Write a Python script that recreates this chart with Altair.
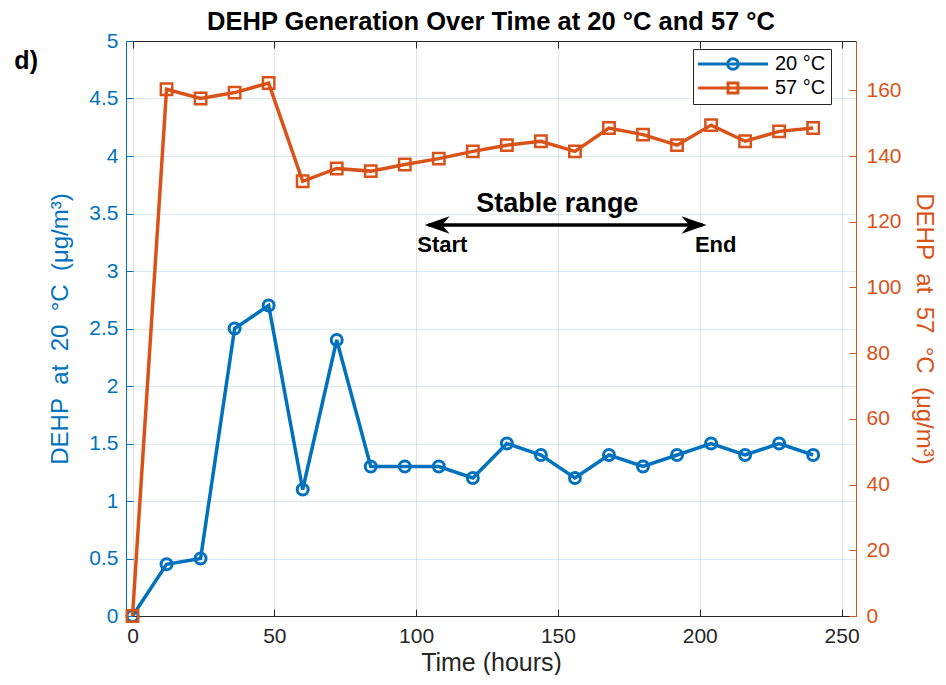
import altair as alt
import pandas as pd

# ---------------- data ----------------
hours = [0, 12, 24, 36, 48, 60, 72, 84, 96, 108, 120, 132, 144, 156, 168, 180, 192, 204, 216, 228, 240]
dehp_20 = [0, 0.45, 0.5, 2.5, 2.7, 1.1, 2.4, 1.3, 1.3, 1.3, 1.2, 1.5, 1.4, 1.2, 1.4, 1.3, 1.4, 1.5, 1.4, 1.5, 1.4]
dehp_57 = [0, 160.3, 157.5, 159.3, 162.2, 132.3, 136.2, 135.4, 137.4, 139.2, 141.4, 143.3, 144.5, 141.4,
           148.5, 146.5, 143.3, 149.4, 144.5, 147.5, 148.5]
series = ["20 °C", "57 °C"]
colors = ["#0072BD", "#D95319"]

x_ticks = [0, 50, 100, 150, 200, 250]
left_ticks = [0, 0.5, 1, 1.5, 2, 2.5, 3, 3.5, 4, 4.5, 5]
right_ticks = [0, 20, 40, 60, 80, 100, 120, 140, 160]
x_domain = [-2.3, 255.1]
left_domain = [0, 5]
right_domain = [0, 175]

# annotations (data coordinates, left axis)
arrow_from = [103.0]
arrow_to = [202.4]
arrow_y = [3.40]
head_text = ["Stable range"]
head_x = [149.8]
head_y = [3.517]
end_texts = ["Start", "End"]
end_x = [100.4, 198.3]
end_y = [3.161, 3.161]
panel_text = ["d)"]
panel_x = [-37.5]
panel_y = [4.826]
title_text = ["DEHP Generation Over Time at 20 °C and 57 °C"]
title_x = [126.4]
title_y = [5.096]

nb = "\u00a0\u00a0"
left_title = f"DEHP{nb}at{nb}20{nb}°C{nb}(μg/m³)"
right_title = f"DEHP{nb}at{nb}57{nb}°C{nb}(μg/m³)"
x_title = "Time (hours)"

FONT = "Liberation Sans"
W, H = 730, 575
DARK = "#262626"

df20 = pd.DataFrame({"hours": hours, "value": dehp_20, "series": series[0]})
df57 = pd.DataFrame({"hours": hours, "value": dehp_57, "series": series[1]})

legend_def = alt.Legend(
    title=None, orient="none", legendX=567, legendY=8, direction="vertical",
    fillColor="white", strokeColor=DARK, padding=5,
    labelFont=FONT, labelFontSize=20, labelColor="#000000", labelOffset=57,
    rowPadding=1, symbolSize=196, symbolStrokeWidth=3,
)
color_enc = alt.Color("series:N", scale=alt.Scale(domain=series, range=colors), legend=legend_def)

x_scale = alt.Scale(domain=x_domain, nice=False, zero=False)
ls = alt.Scale(domain=left_domain, nice=False)
rs = alt.Scale(domain=right_domain, nice=False)

x_main = alt.Axis(orient="bottom", values=x_ticks, ticks=False, labelPadding=9, labelFontSize=21,
                  labelColor=DARK, labelFont=FONT, domainColor=DARK, domainWidth=1,
                  grid=True, gridColor=DARK, gridOpacity=0.13, title=x_title, titleFont=FONT,
                  titleFontSize=25, titleFontWeight="normal", titleColor=DARK, titlePadding=4)
x_ticks_bottom = alt.Axis(orient="top", offset=-H, values=x_ticks, ticks=True, tickSize=7, tickColor=DARK,
                          labels=False, domain=False, grid=False, title=None)
x_ticks_top = alt.Axis(orient="bottom", offset=-H, values=x_ticks, ticks=True, tickSize=7, tickColor=DARK,
                       labels=False, domain=True, domainColor=DARK, grid=False, title=None)

y_left_main = alt.Axis(orient="left", values=left_ticks, format="~g", ticks=False, labelPadding=8,
                       labelFontSize=21, labelFont=FONT, labelColor=colors[0], domainColor=colors[0],
                       grid=True, gridColor=colors[0], gridOpacity=0.15, title=left_title, titleFont=FONT,
                       titleFontSize=24, titleFontWeight="normal", titleColor=colors[0], titlePadding=16)
y_left_ticks = alt.Axis(orient="right", offset=-W, values=left_ticks, ticks=True, tickSize=7,
                        tickColor=colors[0], labels=False, domain=False, grid=False, title=None)
y_right_main = alt.Axis(orient="right", values=right_ticks, ticks=False, labelPadding=10,
                        labelFontSize=21, labelFont=FONT, labelColor=colors[1], domainColor=colors[1],
                        grid=False, title=right_title, titleFont=FONT, titleFontSize=24,
                        titleFontWeight="normal", titleColor=colors[1], titlePadding=10)
y_right_ticks = alt.Axis(orient="left", offset=-W, values=right_ticks, ticks=True, tickSize=7,
                         tickColor=colors[1], labels=False, domain=False, grid=False, title=None)

blue_line = alt.Chart(df20).mark_line(strokeWidth=3.5).encode(
    x=alt.X("hours:Q", scale=x_scale, axis=x_main),
    y=alt.Y("value:Q", scale=ls, axis=y_left_main),
    color=color_enc,
)
blue_pts = alt.Chart(df20).mark_point(shape="circle", filled=False, size=120, strokeWidth=3, opacity=1).encode(
    x=alt.X("hours:Q", scale=x_scale, axis=x_ticks_bottom),
    y=alt.Y("value:Q", scale=ls, axis=y_left_ticks),
    color=color_enc,
)
orange_line = alt.Chart(df57).mark_line(strokeWidth=3.5).encode(
    x=alt.X("hours:Q", scale=x_scale, axis=x_ticks_top),
    y=alt.Y("value:Q", scale=rs, axis=y_right_main),
    color=color_enc,
)
orange_pts = alt.Chart(df57).mark_point(shape="square", filled=False, size=130, strokeWidth=2.5, opacity=1).encode(
    x=alt.X("hours:Q", scale=x_scale, axis=None),
    y=alt.Y("value:Q", scale=rs, axis=y_right_ticks),
    color=color_enc,
)

# legend carrier (no drawn marks): line + marker symbols
circle_sym = "M-1.43,0H8.57M4.33,0A0.76,0.76,0,1,1,2.81,0A0.76,0.76,0,1,1,4.33,0"
square_sym = "M-1.43,0H8.57M2.86,-0.71H4.28V0.71H2.86Z"
legend_layer = alt.Chart(pd.DataFrame({"series": series})).transform_filter("false").mark_point(
    filled=False).encode(
    shape=alt.Shape("series:N", scale=alt.Scale(domain=series, range=[circle_sym, square_sym]), legend=legend_def),
    color=color_enc,
)

arrow_df = pd.DataFrame({"x0": arrow_from, "x1": arrow_to, "y": arrow_y})
arrow_rule = alt.Chart(arrow_df).mark_rule(color="black", strokeWidth=3.5, xOffset=4, x2Offset=-4).encode(
    x=alt.X("x0:Q", scale=x_scale, axis=None),
    x2="x1:Q",
    y=alt.Y("y:Q", scale=ls, axis=None),
)
right_head_path = "M0,0L-2,-0.7L-1.4,0L-2,0.7Z"
left_head_path = "M0,0L2,-0.7L1.4,0L2,0.7Z"
head_r = alt.Chart(arrow_df).mark_point(shape=right_head_path, size=625, filled=True, color="black",
                                        opacity=1, strokeWidth=0).encode(
    x=alt.X("x1:Q", scale=x_scale, axis=None),
    y=alt.Y("y:Q", scale=ls, axis=None),
)
head_l = alt.Chart(arrow_df).mark_point(shape=left_head_path, size=625, filled=True, color="black",
                                        opacity=1, strokeWidth=0).encode(
    x=alt.X("x0:Q", scale=x_scale, axis=None),
    y=alt.Y("y:Q", scale=ls, axis=None),
)

stable_txt = alt.Chart(pd.DataFrame({"t": head_text, "x": head_x, "y": head_y})).mark_text(
    font=FONT, fontSize=27, fontWeight="bold", color="black", align="center", baseline="alphabetic").encode(
    x=alt.X("x:Q", scale=x_scale, axis=None), y=alt.Y("y:Q", scale=ls, axis=None), text="t:N")
end_txt = alt.Chart(pd.DataFrame({"t": end_texts, "x": end_x, "y": end_y})).mark_text(
    font=FONT, fontSize=22, fontWeight="bold", color="black", align="left", baseline="alphabetic").encode(
    x=alt.X("x:Q", scale=x_scale, axis=None), y=alt.Y("y:Q", scale=ls, axis=None), text="t:N")
panel_txt = alt.Chart(pd.DataFrame({"t": panel_text, "x": panel_x, "y": panel_y})).mark_text(
    font=FONT, fontSize=25, fontWeight="bold", color="black", align="center", baseline="middle").encode(
    x=alt.X("x:Q", scale=x_scale, axis=None), y=alt.Y("y:Q", scale=ls, axis=None), text="t:N")
title_txt = alt.Chart(pd.DataFrame({"t": title_text, "x": title_x, "y": title_y})).mark_text(
    font=FONT, fontSize=25.5, fontWeight="bold", color="black", align="center", baseline="alphabetic").encode(
    x=alt.X("x:Q", scale=x_scale, axis=None), y=alt.Y("y:Q", scale=ls, axis=None), text="t:N")

chart = alt.layer(
    blue_line, blue_pts, orange_line, orange_pts, legend_layer,
    arrow_rule, head_r, head_l, stable_txt, end_txt, panel_txt, title_txt,
).resolve_scale(
    y="independent"
).resolve_axis(
    x="independent", y="independent"
).properties(
    width=W, height=H,
    autosize=alt.AutoSizeParams(type="none"),
    padding={"left": 118, "top": 33, "right": 82, "bottom": 59},
    background="white",
).configure_view(stroke=None).configure(font=FONT)

chart.save("out.html", embed_options={"renderer": "svg", "actions": False})
